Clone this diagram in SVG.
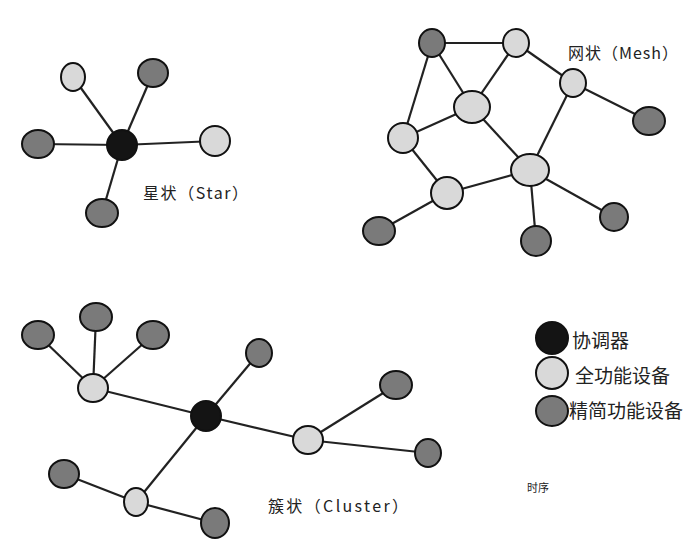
<svg xmlns="http://www.w3.org/2000/svg" width="700" height="559" viewBox="0 0 700 559">
<style>
.e{stroke:#222;stroke-width:2.2;fill:none}
.k{fill:#141414;stroke:#111;stroke-width:2}
.l{fill:#d9d9d9;stroke:#111;stroke-width:2}
.d{fill:#7a7a7a;stroke:#111;stroke-width:2}
.t{font-family:"Noto Sans CJK SC","Liberation Sans",sans-serif;fill:#222}
</style>
<rect width="700" height="559" fill="#fff"/>
<g id="connectors">
<line class="e" x1="122" y1="145" x2="73" y2="77"/>
<line class="e" x1="122" y1="145" x2="153" y2="73"/>
<line class="e" x1="122" y1="145" x2="38" y2="144"/>
<line class="e" x1="122" y1="145" x2="215" y2="141"/>
<line class="e" x1="122" y1="145" x2="102" y2="213"/>
<line class="e" x1="432" y1="43" x2="516" y2="43"/>
<line class="e" x1="432" y1="43" x2="472" y2="107"/>
<line class="e" x1="432" y1="43" x2="403" y2="138"/>
<line class="e" x1="516" y1="43" x2="472" y2="107"/>
<line class="e" x1="516" y1="43" x2="573" y2="83"/>
<line class="e" x1="573" y1="83" x2="649" y2="121"/>
<line class="e" x1="573" y1="83" x2="530" y2="170"/>
<line class="e" x1="472" y1="107" x2="403" y2="138"/>
<line class="e" x1="472" y1="107" x2="530" y2="170"/>
<line class="e" x1="403" y1="138" x2="447" y2="193"/>
<line class="e" x1="447" y1="193" x2="530" y2="170"/>
<line class="e" x1="447" y1="193" x2="379" y2="231"/>
<line class="e" x1="530" y1="170" x2="536" y2="241"/>
<line class="e" x1="530" y1="170" x2="614" y2="217"/>
<line class="e" x1="93" y1="388" x2="38" y2="335"/>
<line class="e" x1="93" y1="388" x2="96" y2="317"/>
<line class="e" x1="93" y1="388" x2="153" y2="335"/>
<line class="e" x1="93" y1="388" x2="206" y2="416"/>
<line class="e" x1="206" y1="416" x2="259" y2="353"/>
<line class="e" x1="206" y1="416" x2="308" y2="440"/>
<line class="e" x1="308" y1="440" x2="396" y2="385"/>
<line class="e" x1="308" y1="440" x2="428" y2="453"/>
<line class="e" x1="206" y1="416" x2="136" y2="502"/>
<line class="e" x1="136" y1="502" x2="64" y2="474"/>
<line class="e" x1="136" y1="502" x2="215" y2="523"/>
</g>
<g id="star">
<g id="s-c"><ellipse class="k" cx="122" cy="145" rx="15" ry="15"/></g>
<g id="s-1"><ellipse class="l" cx="73" cy="77" rx="12" ry="14"/></g>
<g id="s-2"><ellipse class="d" cx="153" cy="73" rx="15" ry="14"/></g>
<g id="s-3"><ellipse class="d" cx="38" cy="144" rx="16" ry="14"/></g>
<g id="s-4"><ellipse class="l" cx="215" cy="141" rx="15" ry="15"/></g>
<g id="s-5"><ellipse class="d" cx="102" cy="213" rx="16" ry="14"/></g>
<text class="t" x="143" y="199" font-size="16" textLength="105" lengthAdjust="spacing">星状（Star）</text>
</g>
<g id="mesh">
<g id="m-1"><ellipse class="d" cx="432" cy="43" rx="13" ry="14"/></g>
<g id="m-2"><ellipse class="l" cx="516" cy="43" rx="13" ry="14"/></g>
<g id="m-3"><ellipse class="l" cx="573" cy="83" rx="13" ry="14"/></g>
<g id="m-4"><ellipse class="d" cx="649" cy="121" rx="16" ry="14"/></g>
<g id="m-5"><ellipse class="l" cx="472" cy="107" rx="18" ry="16"/></g>
<g id="m-6"><ellipse class="l" cx="403" cy="138" rx="15" ry="15"/></g>
<g id="m-7"><ellipse class="l" cx="530" cy="170" rx="19" ry="16"/></g>
<g id="m-8"><ellipse class="l" cx="447" cy="193" rx="16" ry="16"/></g>
<g id="m-9"><ellipse class="d" cx="379" cy="231" rx="16" ry="14"/></g>
<g id="m-10"><ellipse class="d" cx="536" cy="241" rx="15" ry="15"/></g>
<g id="m-11"><ellipse class="d" cx="614" cy="217" rx="14" ry="14"/></g>
<text class="t" x="568" y="59" font-size="16" textLength="110" lengthAdjust="spacing">网状（Mesh）</text>
</g>
<g id="cluster">
<g id="c-1"><ellipse class="d" cx="38" cy="335" rx="16" ry="14"/></g>
<g id="c-2"><ellipse class="d" cx="96" cy="317" rx="16" ry="14"/></g>
<g id="c-3"><ellipse class="d" cx="153" cy="335" rx="16" ry="14"/></g>
<g id="c-4"><ellipse class="l" cx="93" cy="388" rx="15" ry="14"/></g>
<g id="c-5"><ellipse class="d" cx="259" cy="353" rx="13" ry="14"/></g>
<g id="c-6"><ellipse class="k" cx="206" cy="416" rx="15" ry="15"/></g>
<g id="c-7"><ellipse class="d" cx="396" cy="385" rx="16" ry="14"/></g>
<g id="c-8"><ellipse class="l" cx="308" cy="440" rx="15" ry="14"/></g>
<g id="c-9"><ellipse class="d" cx="428" cy="453" rx="13" ry="14"/></g>
<g id="c-10"><ellipse class="d" cx="64" cy="474" rx="15" ry="14"/></g>
<g id="c-11"><ellipse class="l" cx="136" cy="502" rx="12" ry="14"/></g>
<g id="c-12"><ellipse class="d" cx="215" cy="523" rx="14" ry="15"/></g>
<text class="t" x="268" y="512" font-size="16" textLength="140" lengthAdjust="spacing">簇状（Cluster）</text>
</g>
<g id="legend">
<g id="lg-1"><ellipse class="k" cx="552" cy="338" rx="16" ry="16"/><text class="t" x="572" y="348" font-size="19" fill="#111">协调器</text></g>
<g id="lg-2"><ellipse class="l" cx="552" cy="373" rx="16" ry="16"/><text class="t" x="575" y="383" font-size="19" fill="#111">全功能设备</text></g>
<g id="lg-3"><ellipse class="d" cx="552" cy="411" rx="16" ry="15"/><text class="t" x="569" y="418" font-size="19" fill="#111">精简功能设备</text></g>
<text class="t" x="527" y="492" font-size="11">时序</text>
</g>
</svg>
